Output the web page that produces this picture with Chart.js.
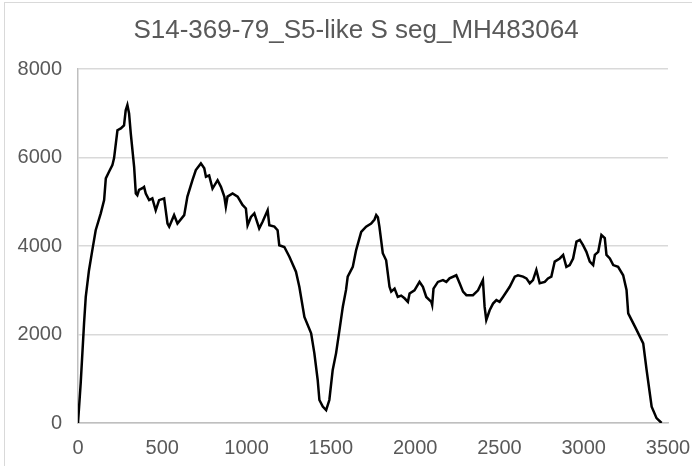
<!DOCTYPE html>
<html>
<head>
<meta charset="utf-8">
<script src="https://cdn.jsdelivr.net/npm/chart.js@4/dist/chart.umd.min.js"></script>
<style>
  html, body { margin: 0; padding: 0; background: #fff; overflow: hidden; }
  #wrap { position: relative; width: 692px; height: 466px; overflow: hidden; }
  #frame { position: absolute; left: 4px; top: 2px; width: 760px; height: 520px; border: 1px solid #d9d9d9; }
  #box { position: absolute; left: 0; top: 0; width: 692px; height: 466px; }
</style>
</head>
<body>
<div id="wrap">
  <div id="frame"></div>
  <div id="box"><canvas id="chart"></canvas></div>
</div>
<script>
// coverage along the S segment (position in bp, read depth)
const positions = [
  0, 16, 36, 46, 65, 85, 105, 135, 155, 165, 184, 204, 214, 234, 254, 273, 283, 293, 303, 313,
  333, 343, 352, 362, 382, 392, 402, 422, 441, 461, 481, 511, 531, 541, 570, 590, 630, 649, 679, 699,
  729, 749, 759, 778, 798, 828, 848, 868, 877, 887, 917, 947, 976, 996, 1006, 1026, 1046, 1075, 1095, 1125,
  1135, 1165, 1184, 1194, 1224, 1254, 1293, 1313, 1343, 1383, 1402, 1422, 1432, 1452, 1472, 1491, 1511, 1531, 1551, 1571,
  1590, 1600, 1630, 1650, 1680, 1709, 1739, 1759, 1769, 1779, 1788, 1808, 1828, 1848, 1858, 1878, 1897, 1917, 1937, 1957,
  1967, 1996, 2026, 2046, 2066, 2096, 2101, 2109, 2135, 2165, 2185, 2204, 2244, 2264, 2284, 2304, 2343, 2373, 2402, 2412,
  2422, 2442, 2462, 2482, 2501, 2521, 2561, 2591, 2610, 2640, 2660, 2680, 2699, 2719, 2739, 2769, 2788, 2808, 2828, 2858,
  2878, 2897, 2917, 2937, 2957, 2977, 2996, 3016, 3036, 3056, 3066, 3086, 3105, 3125, 3135, 3155, 3175, 3204, 3234, 3254,
  3264, 3304, 3353, 3373, 3403, 3432, 3462
];
const coverage = [
  0, 900, 2260, 2850, 3450, 3910, 4360, 4740, 5040, 5530, 5680, 5830, 5990, 6620, 6660, 6730, 7070, 7190, 7000, 6550,
  5790, 5190, 5150, 5270, 5310, 5340, 5190, 5040, 5080, 4810, 5040, 5080, 4510, 4440, 4700, 4510, 4700, 5120, 5490, 5720,
  5870, 5760, 5570, 5600, 5300, 5490, 5340, 5120, 4890, 5120, 5190, 5120, 4930, 4850, 4470, 4660, 4740, 4400, 4550, 4810,
  4470, 4440, 4360, 4020, 3980, 3760, 3420, 3080, 2400, 2030, 1580, 970, 520, 370, 290, 520, 1200, 1580, 2100, 2630,
  3010, 3310, 3530, 3910, 4320, 4440, 4510, 4600, 4700, 4650, 4440, 3840, 3680, 3080, 2970, 3040, 2850, 2880, 2820, 2740,
  2930, 3000, 3190, 3080, 2850, 2740, 2670, 3040, 3190, 3230, 3190, 3270, 3340, 3160, 2970, 2890, 2890, 3000, 3230, 2630,
  2330, 2550, 2700, 2780, 2740, 2850, 3080, 3310, 3340, 3310, 3270, 3160, 3230, 3460, 3160, 3190, 3270, 3310, 3650, 3720,
  3800, 3530, 3570, 3720, 4100, 4140, 4020, 3870, 3650, 3570, 3800, 3870, 4250, 4180, 3800, 3720, 3570, 3530, 3340, 3010,
  2480, 2180, 1800, 1200, 370, 110, 0
];
const xTicks = [0, 500, 1000, 1500, 2000, 2500, 3000, 3500];
const yTicks = [0, 2000, 4000, 6000, 8000];
const chartTitle = 'S14-369-79_S5-like S seg_MH483064';

const FONT = '"Liberation Sans", Arial, sans-serif';
const GREY = '#595959';

// Excel centres the title over the whole (wider) chart object, not the visible crop
const shiftTitle = {
  id: 'shiftTitle',
  afterLayout(chart) {
    const t = chart.titleBlock;
    if (!t) return;
    t.left = 0;
    t.right = 712;
    t.width = 712;
  }
};

new Chart(document.getElementById('chart'), {
  type: 'scatter',
  data: {
    datasets: [{
      data: positions.map((x, i) => ({ x, y: coverage[i] })),
      showLine: true,
      borderColor: '#000000',
      borderWidth: 2.5,
      pointRadius: 0,
      tension: 0
    }]
  },
  plugins: [shiftTitle],
  options: {
    responsive: true,
    maintainAspectRatio: false,
    animation: false,
    layout: { padding: { left: 0, right: 24, top: 0, bottom: 0 } },
    plugins: {
      legend: { display: false },
      tooltip: { enabled: false },
      title: {
        display: true,
        text: chartTitle,
        color: GREY,
        font: { family: FONT, size: 26, weight: 'normal' },
        padding: { top: 15, bottom: 23 }
      }
    },
    scales: {
      x: {
        type: 'linear',
        min: 0,
        max: 3500,
        afterBuildTicks: (s) => { s.ticks = xTicks.map(v => ({ value: v })); },
        grid: { display: false, drawTicks: false },
        border: { color: '#bfbfbf', width: 1.5 },
        ticks: { color: GREY, font: { family: FONT, size: 20 }, padding: 13, maxRotation: 0, callback: v => String(v) },
        afterFit: (s) => { s.height = 43; s.paddingLeft = 0; s.paddingRight = 0; }
      },
      y: {
        min: 0,
        max: 8000,
        afterBuildTicks: (s) => { s.ticks = yTicks.map(v => ({ value: v })); },
        grid: { color: '#d9d9d9', lineWidth: 1.5, drawTicks: false },
        border: { color: '#bfbfbf', width: 1.5 },
        ticks: { color: GREY, font: { family: FONT, size: 20 }, padding: 16, callback: v => String(v) },
        afterFit: (s) => { s.width = 78; s.paddingTop = 0; s.paddingBottom = 0; }
      }
    }
  }
});
</script>
</body>
</html>
